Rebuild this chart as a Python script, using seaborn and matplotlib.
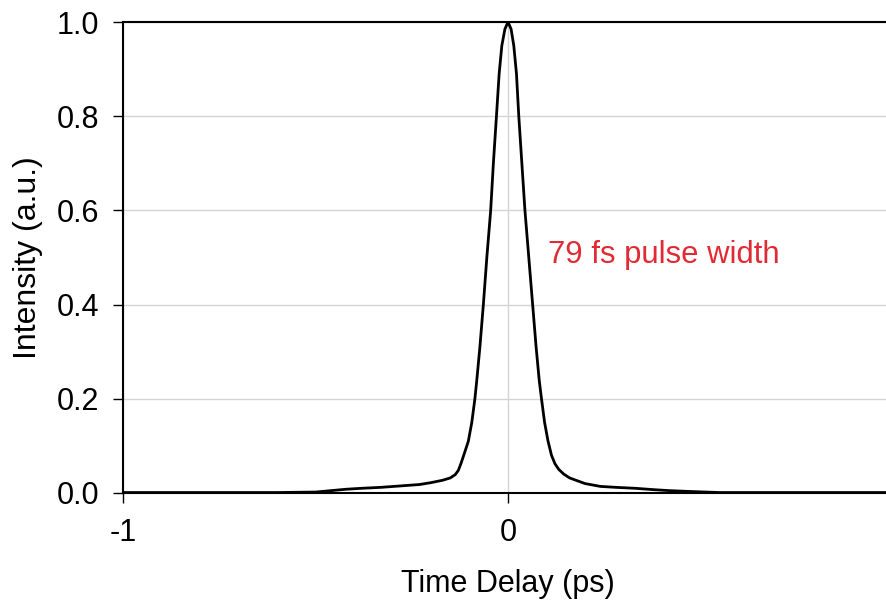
import matplotlib
matplotlib.use("Agg")
import matplotlib.pyplot as plt
import seaborn as sns
import pandas as pd

# ---- data ----
time_ps = [-1.0, -0.8, -0.6, -0.5, -0.46, -0.42, -0.38, -0.33, -0.28, -0.23, -0.20,
           -0.17, -0.15, -0.137, -0.129, -0.122, -0.113, -0.103, -0.094, -0.086,
           -0.081, -0.073, -0.064, -0.055, -0.045, -0.038, -0.030, -0.023, -0.016,
           -0.008, 0.0, 0.008, 0.015, 0.022, 0.028, 0.036, 0.044, 0.054, 0.064,
           0.073, 0.081, 0.087, 0.095, 0.104, 0.113, 0.122, 0.132, 0.145, 0.16,
           0.18, 0.20, 0.24, 0.28, 0.33, 0.38, 0.42, 0.48, 0.55, 0.65, 0.8, 1.0]
intensity = [0.001, 0.001, 0.001, 0.002, 0.005, 0.008, 0.010, 0.012, 0.015, 0.018, 0.022,
             0.027, 0.032, 0.039, 0.048, 0.063, 0.085, 0.11, 0.15, 0.20,
             0.24, 0.31, 0.40, 0.50, 0.60, 0.70, 0.80, 0.89, 0.95,
             0.985, 1.0, 0.985, 0.95, 0.89, 0.80, 0.70, 0.60, 0.50, 0.40,
             0.31, 0.24, 0.20, 0.15, 0.11, 0.08, 0.062, 0.050, 0.040, 0.032,
             0.026, 0.020, 0.014, 0.012, 0.010, 0.007, 0.005, 0.003, 0.001, 0.001, 0.001, 0.001]
x_ticks = [-1, 0, 1]
y_ticks = [0.0, 0.2, 0.4, 0.6, 0.8, 1.0]
y_tick_labels = ["0.0", "0.2", "0.4", "0.6", "0.8", "1.0"]
annotation = "79 fs pulse width"

df = pd.DataFrame({"t": time_ps, "I": intensity})

sns.set_theme(style="white")
plt.rcParams["font.family"] = ["Liberation Sans", "DejaVu Sans"]

fig = plt.figure(figsize=(8.86, 6.02), dpi=100)
ax = fig.add_axes([123 / 886, 109 / 602, 770 / 886, 471 / 602])

sns.lineplot(data=df, x="t", y="I", ax=ax, color="black", linewidth=2.0,
             estimator=None, sort=False)

ax.set_xlim(-1, 1)
ax.set_ylim(0, 1.0)
ax.set_xticks(x_ticks)
ax.set_xticklabels([str(v) for v in x_ticks])
ax.set_yticks(y_ticks)
ax.set_yticklabels(y_tick_labels)

ax.grid(True, color="#d4d4d4", linewidth=1.0)
ax.set_axisbelow(True)
for side in ["left", "bottom", "top", "right"]:
    ax.spines[side].set_visible(True)
    ax.spines[side].set_color("black")
    ax.spines[side].set_linewidth(1.5)

ax.tick_params(axis="both", which="major", direction="out", length=7, width=1,
               color="black", labelsize=22, labelcolor="black")
ax.tick_params(axis="y", pad=10, left=True)
ax.tick_params(axis="x", pad=11, bottom=True)

ax.set_xlabel("Time Delay (ps)", fontsize=22, color="black", labelpad=15)
ax.set_ylabel("Intensity (a.u.)", fontsize=23, color="black", labelpad=10)

ax.text(0.104, 0.505, annotation, color="#e02b35", fontsize=22.3,
        ha="left", va="center")

fig.savefig("out.png", dpi=100)
